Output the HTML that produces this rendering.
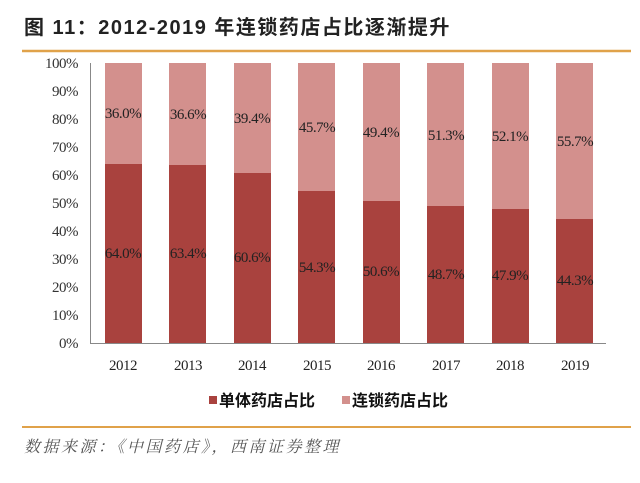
<!DOCTYPE html>
<html><head><meta charset="utf-8"><style>
body{margin:0;background:#fff;width:640px;height:478px;overflow:hidden;font-family:"Liberation Serif",serif}
</style></head><body>
<svg width="640" height="478" xmlns="http://www.w3.org/2000/svg">
<text x="24" y="34" font-family="Liberation Sans,'Noto Sans CJK SC',sans-serif" font-size="20" font-weight="bold" fill="#222" letter-spacing="1.5">图 11：2012-2019 年连锁药店占比逐渐提升</text>
<line x1="22" y1="51" x2="631" y2="51" stroke="#e0a24a" stroke-width="2.5"/>
<g font-family="Liberation Serif,serif" font-size="15" fill="#333" text-anchor="end" letter-spacing="-0.5">
<text x="78" y="68">100%</text><text x="78" y="96">90%</text><text x="78" y="124">80%</text><text x="78" y="152">70%</text><text x="78" y="180">60%</text><text x="78" y="208">50%</text><text x="78" y="236">40%</text><text x="78" y="264">30%</text><text x="78" y="292">20%</text><text x="78" y="320">10%</text><text x="78" y="348">0%</text>
</g>
<line x1="90.5" y1="63" x2="90.5" y2="344" stroke="#888"/>
<line x1="90" y1="343.5" x2="606" y2="343.5" stroke="#888"/>
<g font-size="15" fill="#222" text-anchor="middle" font-family="Liberation Serif,serif" letter-spacing="-0.5">
<rect x="105" y="63" width="37" height="101" fill="#d3908d"/><rect x="105" y="164" width="37" height="179" fill="#a9423e"/>
<text x="123" y="118">36.0%</text><text x="123" y="258">64.0%</text><text x="123" y="370">2012</text>
<rect x="169" y="63" width="37" height="102" fill="#d3908d"/><rect x="169" y="165" width="37" height="178" fill="#a9423e"/>
<text x="188" y="119">36.6%</text><text x="188" y="258">63.4%</text><text x="188" y="370">2013</text>
<rect x="234" y="63" width="37" height="110" fill="#d3908d"/><rect x="234" y="173" width="37" height="170" fill="#a9423e"/>
<text x="252" y="123">39.4%</text><text x="252" y="262">60.6%</text><text x="252" y="370">2014</text>
<rect x="298" y="63" width="37" height="128" fill="#d3908d"/><rect x="298" y="191" width="37" height="152" fill="#a9423e"/>
<text x="317" y="132">45.7%</text><text x="317" y="272">54.3%</text><text x="317" y="370">2015</text>
<rect x="363" y="63" width="37" height="138" fill="#d3908d"/><rect x="363" y="201" width="37" height="142" fill="#a9423e"/>
<text x="381" y="137">49.4%</text><text x="381" y="276">50.6%</text><text x="381" y="370">2016</text>
<rect x="427" y="63" width="37" height="143" fill="#d3908d"/><rect x="427" y="206" width="37" height="137" fill="#a9423e"/>
<text x="446" y="140">51.3%</text><text x="446" y="279">48.7%</text><text x="446" y="370">2017</text>
<rect x="492" y="63" width="37" height="146" fill="#d3908d"/><rect x="492" y="209" width="37" height="134" fill="#a9423e"/>
<text x="510" y="141">52.1%</text><text x="510" y="280">47.9%</text><text x="510" y="370">2018</text>
<rect x="556" y="63" width="37" height="156" fill="#d3908d"/><rect x="556" y="219" width="37" height="124" fill="#a9423e"/>
<text x="575" y="146">55.7%</text><text x="575" y="285">44.3%</text><text x="575" y="370">2019</text>
</g>
<g font-family="Liberation Sans,'Noto Sans CJK SC',sans-serif" font-size="16" font-weight="bold" fill="#111">
<rect x="209" y="396" width="8" height="8" fill="#a9423e"/><text x="219" y="406">单体药店占比</text>
<rect x="342" y="396" width="8" height="8" fill="#d3908d"/><text x="352" y="406">连锁药店占比</text>
</g>
<line x1="22" y1="427" x2="631" y2="427" stroke="#e0a24a" stroke-width="2"/>
<text x="24" y="452" font-family="Liberation Serif,'Noto Serif CJK SC',serif" font-size="16" font-style="italic" fill="#555" letter-spacing="2.5">数据来源：《中国药店》，西南证券整理</text>
</svg>
</body></html>
